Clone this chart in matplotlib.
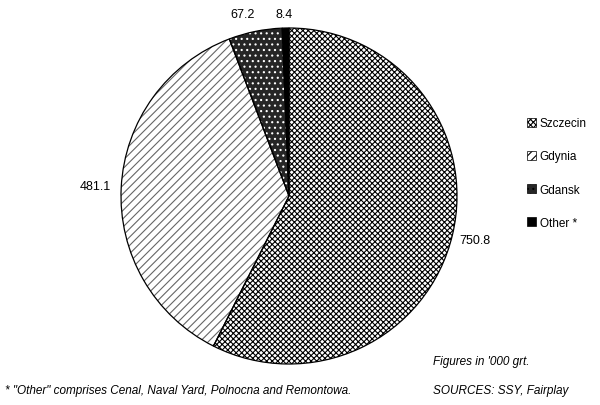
import matplotlib
matplotlib.use("Agg")
import matplotlib.pyplot as plt

# shipbuilding output by yard, '000 grt
yards = ["Szczecin", "Gdynia", "Gdansk", "Other *"]
values = [750.8, 481.1, 67.2, 8.4]
value_labels = ["750.8", "481.1", "67.2", "8.4"]

plt.rcParams["font.family"] = ["Liberation Sans", "DejaVu Sans"]
plt.rcParams["hatch.linewidth"] = 0.8

fig = plt.figure(figsize=(6.0, 4.06), dpi=100)
# pie centre ~ (289, 197) px, radius ~168 px
ax = fig.add_axes([121 / 600, 41 / 406, 336 / 600, 336 / 406])

faces = ["white", "white", "#262626", "black"]
hatches = ["xxxxxx", "////", "...", None]
hatch_cols = ["black", "#666666", "white", "black"]

wedges, _ = ax.pie(values, startangle=90, counterclock=False,
                   colors=faces, radius=1.0)
for w, h, hc in zip(wedges, hatches, hatch_cols):
    if h:
        w.set_hatch(h)
    w.set_edgecolor(hc)
    w.set_linewidth(0)

# outlines on top
ax.pie(values, startangle=90, counterclock=False, radius=1.0,
       wedgeprops=dict(fill=False, edgecolor="black", linewidth=0.9))

label_pos = [(1.107, -0.26), (-1.15, 0.06), (-0.274, 1.083), (-0.03, 1.083)]
for txt, (x, y) in zip(value_labels, label_pos):
    ax.text(x, y, txt, ha="center", va="center", fontsize=9)

ax.set_xlim(-1, 1)
ax.set_ylim(-1, 1)
ax.set_aspect("equal")
ax.axis("off")

leg = fig.legend(wedges, yards, loc="upper left", bbox_to_anchor=(0.86, 0.735),
                 frameon=False, fontsize=8.5, handlelength=0.8, handleheight=0.8,
                 handletextpad=0.3, labelspacing=1.8)
for p in leg.get_patches():
    p.set_edgecolor("black")
    p.set_linewidth(0.5)

fig.text(433 / 600, 1 - 362 / 406, "Figures in '000 grt.", fontsize=8.5,
         style="italic", va="center")
fig.text(433 / 600, 1 - 391 / 406, "SOURCES: SSY, Fairplay", fontsize=8.5,
         style="italic", va="center")
fig.text(5 / 600, 1 - 391 / 406,
         "* \"Other\" comprises Cenal, Naval Yard, Polnocna and Remontowa.",
         fontsize=8.5, style="italic", va="center")

fig.savefig("out.png", dpi=100)
